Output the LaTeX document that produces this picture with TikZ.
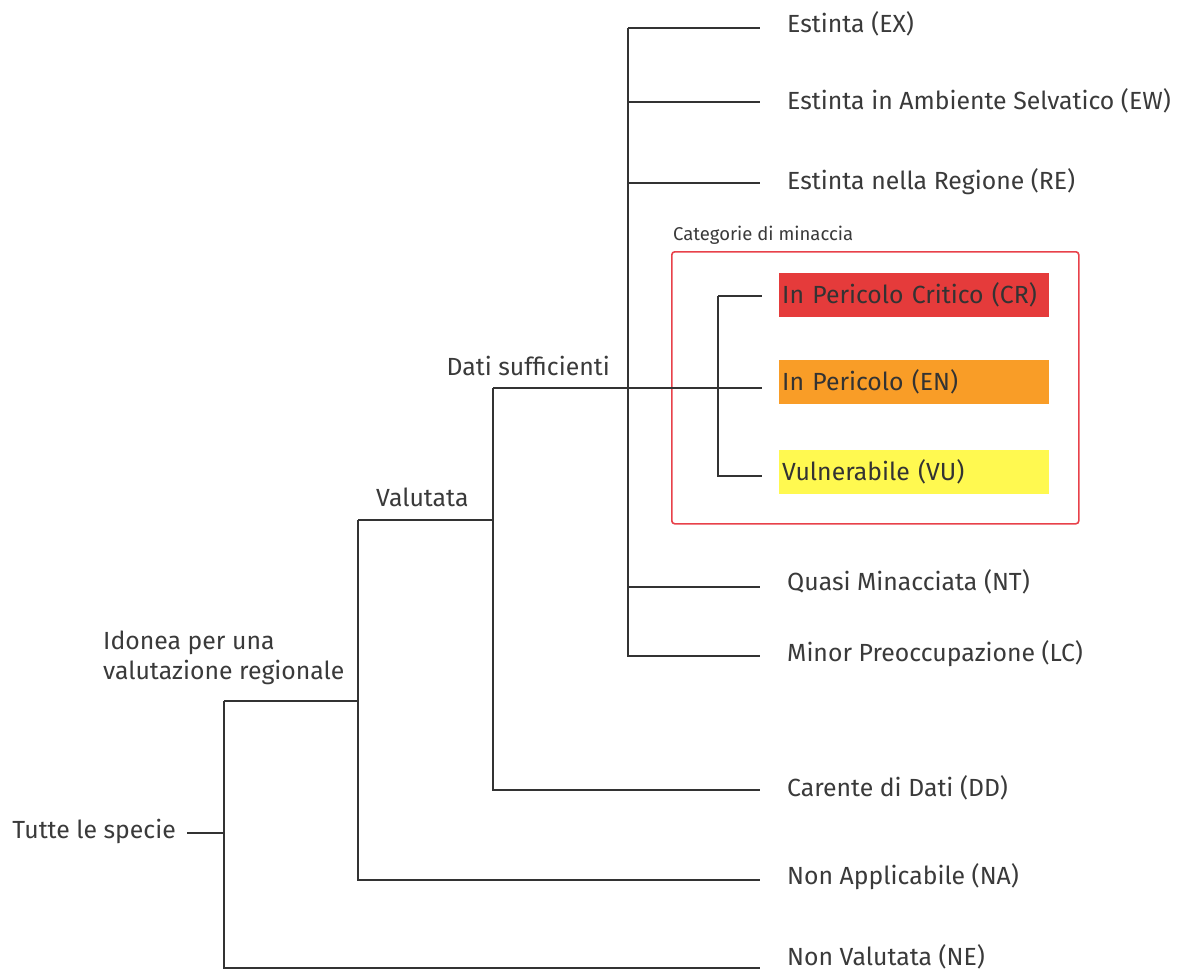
\documentclass[tikz,border=0pt]{standalone}
\usepackage{fontspec}
\setmainfont{Fira Sans}
\begin{document}
\begin{tikzpicture}[x=1pt,y=-1pt,
  ln/.style={draw=linegray,line width=2pt},
  lbl/.style={text=txtgray,font=\fontsize{24.8}{30}\selectfont,inner sep=0pt},
  leaf/.style={lbl,anchor=west},
  cat/.style={inner sep=0pt,minimum width=270pt,minimum height=44pt,anchor=west,text=black!80,font=\fontsize{24.8}{28}\selectfont,text width=264pt,align=left}]
\definecolor{linegray}{HTML}{333333}
\definecolor{txtgray}{HTML}{3A3A3A}
\definecolor{boxred}{HTML}{E8414A}
\definecolor{crred}{HTML}{E53B3B}
\definecolor{enorange}{HTML}{F99D27}
\definecolor{vuyellow}{HTML}{FFF950}
\useasboundingbox (0,0) rectangle (1177,972);
\fill[white] (0,0) rectangle (1177,972);

% red frame
\node[draw=boxred,line width=1.6pt,rounded corners=3pt,minimum width=407pt,minimum height=272pt,inner sep=0pt,anchor=north west] (frame) at (671,251) {};
\node[lbl,anchor=south west,font=\fontsize{18.5}{20}\selectfont] (frametitle) at (673,245) {Categorie di minaccia};

% coloured categories
\node[cat,fill=crred] (cr) at (779,295) {In Pericolo Critico (CR)};
\node[cat,fill=enorange] (en) at (779,382) {In Pericolo (EN)};
\node[cat,fill=vuyellow] (vu) at (779,472) {Vulnerabile (VU)};

% junction coordinates
\coordinate (rootj) at (224,833);
\coordinate (rtop) at (224,701);
\coordinate (rbot) at (224,968);
\coordinate (idj) at (358,701);
\coordinate (idtop) at (358,520);
\coordinate (idbot) at (358,880);
\coordinate (valj) at (493,520);
\coordinate (valtop) at (493,388);
\coordinate (valbot) at (493,790);
\coordinate (suffj) at (628,388);
\coordinate (stop) at (628,28);
\coordinate (sbot) at (628,656);
\coordinate (s2) at (628,102);
\coordinate (s3) at (628,183);
\coordinate (s4) at (628,587);
\coordinate (thrj) at (718,388);
\coordinate (thrtop) at (718,296);
\coordinate (thrbot) at (718,476);

% leaf end points
\coordinate (eEX) at (760,28);
\coordinate (eEW) at (760,102);
\coordinate (eRE) at (760,183);
\coordinate (eNT) at (760,587);
\coordinate (eLC) at (760,656);
\coordinate (eDD) at (760,790);
\coordinate (eNA) at (760,880);
\coordinate (eNE) at (760,968);
\coordinate (eCR) at (762,296);
\coordinate (eEN) at (762,388);
\coordinate (eVU) at (762,476);

% texts
\node[lbl,anchor=east,inner sep=0pt] (all) at (176,831) {Tutte le specie};
\coordinate (allr) at (187,833);
\node[lbl,anchor=south west,align=left] (idonea) at (103,685) {Idonea per una\\valutazione regionale};
\node[lbl,anchor=south west] (valutata) at (376,507) {Valutata};
\node[lbl,anchor=south east] (suff) at (610,376) {Dati sufficienti};
\node[leaf] (EX) at (787,24) {Estinta (EX)};
\node[leaf] (EW) at (787,101) {Estinta in Ambiente Selvatico (EW)};
\node[leaf] (RE) at (787,182) {Estinta nella Regione (RE)};
\node[leaf] (NT) at (787,582) {Quasi Minacciata (NT)};
\node[leaf] (LC) at (787,654) {Minor Preoccupazione (LC)};
\node[leaf] (DD) at (787,788) {Carente di Dati (DD)};
\node[leaf] (NA) at (787,877) {Non Applicabile (NA)};
\node[leaf] (NE) at (787,957) {Non Valutata (NE)};

% tree lines
\draw[ln] (allr) -- (rootj);
\draw[ln] (rtop) -- (rbot) -- (eNE);
\draw[ln] (rtop) -- (idj);
\draw[ln] (idtop) -- (idbot) -- (eNA);
\draw[ln] (idtop) -- (valj);
\draw[ln] (valtop) -- (valbot) -- (eDD);
\draw[ln] (valtop) -- (suffj) -- (thrj);
\draw[ln] (stop) -- (sbot) -- (eLC);
\draw[ln] (stop) -- (eEX);
\draw[ln] (s2) -- (eEW);
\draw[ln] (s3) -- (eRE);
\draw[ln] (s4) -- (eNT);
\draw[ln] (thrtop) -- (thrbot) -- (eVU);
\draw[ln] (thrtop) -- (eCR);
\draw[ln] (thrj) -- (eEN);
\end{tikzpicture}
\end{document}
